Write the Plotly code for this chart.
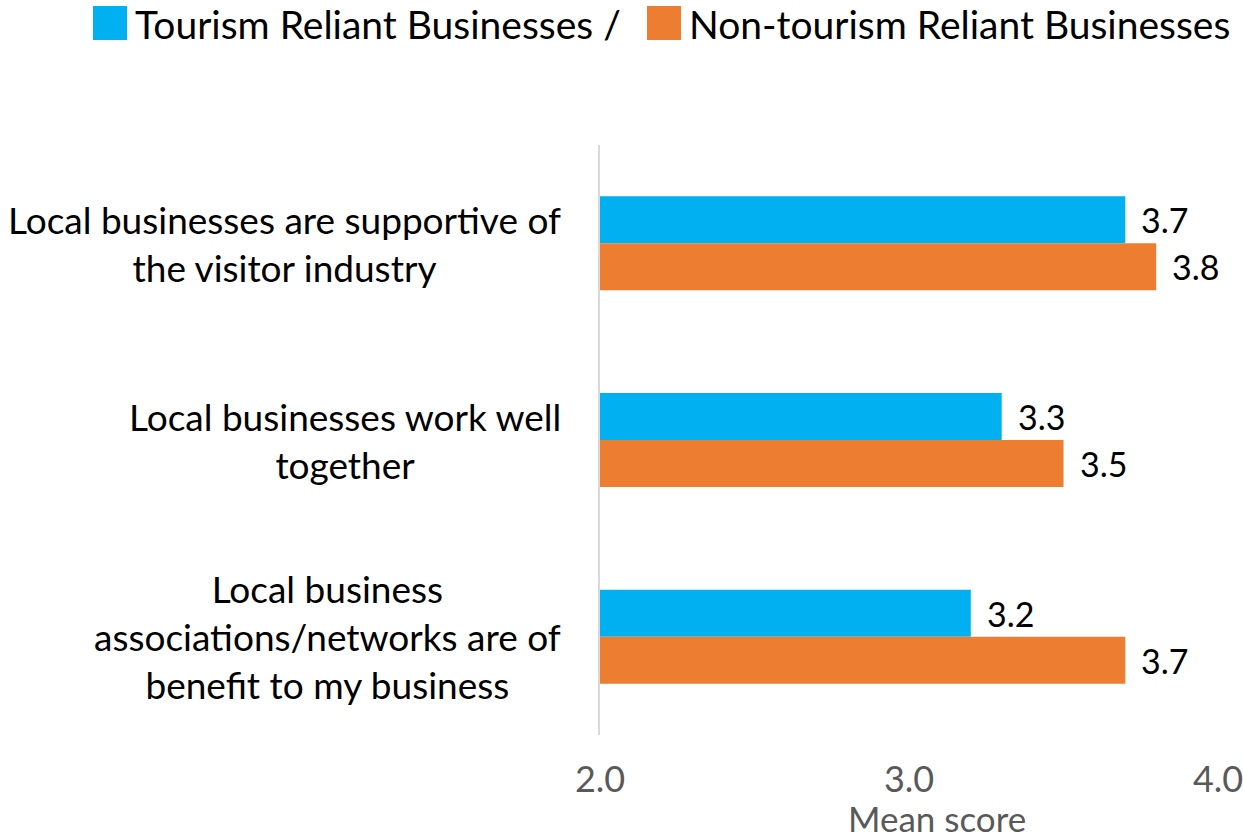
import plotly.graph_objects as go

# Survey statements (top to bottom) and mean agreement scores
categories = [
    "Local businesses are supportive of<br>the visitor industry",
    "Local businesses work well<br>together",
    "Local business<br>associations/networks are of<br>benefit to my business",
]
tourism_reliant = [3.7, 3.3, 3.2]
non_tourism_reliant = [3.8, 3.5, 3.7]
series_names = ["Tourism Reliant Businesses /", "Non-tourism Reliant Businesses"]
x_ticks = [2.0, 3.0, 4.0]
x_title = "Mean score"

BLUE = "#00B0F0"
ORANGE = "#ED7D31"
GREY_TEXT = "#595959"
FONT = "Lato"
W, H = 1243, 839
ML, MR, MT, MB = 600, 25, 145, 104
PW, PH = W - ML - MR, H - MT - MB


def px_x(p):
    return (p - ML) / PW


def px_y(p):
    return (H - MB - p) / PH


fig = go.Figure()
for name, vals, col in [(series_names[0], tourism_reliant, BLUE),
                        (series_names[1], non_tourism_reliant, ORANGE)]:
    fig.add_trace(go.Bar(y=categories, x=vals, orientation="h", name=name,
                         marker=dict(color=col, line=dict(width=0)), showlegend=False))

# value labels beside each bar
bar_px = PH / len(categories) * 0.478 / 2
for vals, shift in [(tourism_reliant, bar_px / 2), (non_tourism_reliant, -bar_px / 2)]:
    for c, v in zip(categories, vals):
        fig.add_annotation(x=v, y=c, text=f"{v:.1f}", showarrow=False, xanchor="left",
                           xshift=14, yshift=shift, font=dict(family=FONT, size=34, color="#000000"))

# category labels, centred text block right-aligned against the axis
for c in categories:
    fig.add_annotation(x=px_x(563), xref="paper", y=c, yref="y", text=c, showarrow=False,
                       xanchor="right", yanchor="middle", align="center",
                       font=dict(family=FONT, size=37, color="#000000"))

# legend across the top
legend_items = [(series_names[0], BLUE, 93), (series_names[1], ORANGE, 647)]
for name, col, x0 in legend_items:
    fig.add_shape(type="rect", xref="paper", yref="paper",
                  x0=px_x(x0), x1=px_x(x0 + 34), y0=px_y(40), y1=px_y(6),
                  fillcolor=col, line=dict(width=0))
    fig.add_annotation(x=px_x(x0 + 40), y=px_y(24), xref="paper", yref="paper", text=name,
                       showarrow=False, xanchor="left", yanchor="middle",
                       font=dict(family=FONT, size=39, color="#000000"))

# axis title
fig.add_annotation(x=px_x(937), y=px_y(818), xref="paper", yref="paper", text=x_title,
                   showarrow=False, xanchor="center", yanchor="middle",
                   font=dict(family=FONT, size=35, color=GREY_TEXT))

fig.update_layout(
    width=W, height=H,
    margin=dict(l=ML, r=MR, t=MT, b=MB, autoexpand=False),
    barmode="group", bargap=0.522, bargroupgap=0,
    plot_bgcolor="white", paper_bgcolor="white",
    xaxis=dict(range=[2, 4], tickvals=x_ticks, ticktext=[f"{t:.1f}" for t in x_ticks],
               showgrid=False, zeroline=False, showline=False, ticks="",
               automargin=False, ticklabelstandoff=20, ticklabeloverflow="allow",
               tickfont=dict(family=FONT, size=36, color=GREY_TEXT)),
    yaxis=dict(autorange="reversed", showticklabels=False, showgrid=False, zeroline=False,
               automargin=False, showline=True, linecolor="#D9D9D9", linewidth=2, ticks=""),
)

fig.write_html("out.html")
